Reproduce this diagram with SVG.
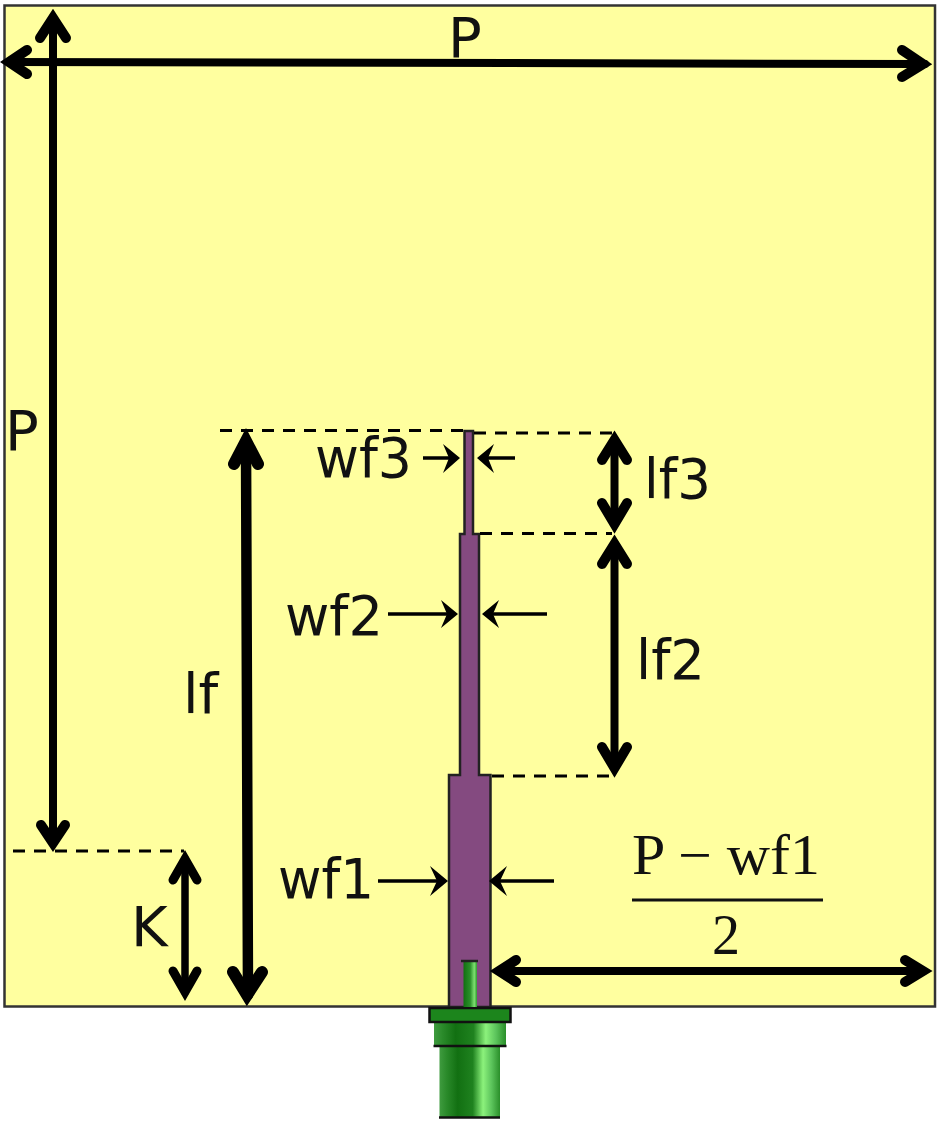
<svg xmlns="http://www.w3.org/2000/svg" width="942" height="1125" viewBox="0 0 942 1125">
<defs>
<style>
.t{font-family:"DejaVu Sans",Verdana,sans-serif;font-size:56px;fill:#111}
.m{font-family:"Liberation Serif","Times New Roman",serif;font-size:56px;fill:#111}
.a{fill:none;stroke:#000;stroke-linecap:round;stroke-linejoin:miter;stroke-miterlimit:10}
.d{fill:none;stroke:#000;stroke-width:3;stroke-dasharray:12 9}
.f{fill:#844a80;stroke:#222;stroke-width:2.5}
.g{stroke:#111;stroke-width:2.5}
.s{fill:none;stroke:#000;stroke-width:3.500}
</style>
<linearGradient id="cyl" x1="0" x2="1" y1="0" y2="0">
<stop offset="0" stop-color="#3f9b3f"/><stop offset=".12" stop-color="#2a8a2a"/><stop offset=".3" stop-color="#127012"/><stop offset=".55" stop-color="#1f821f"/><stop offset=".72" stop-color="#8cf27c"/><stop offset=".86" stop-color="#5cc45c"/><stop offset="1" stop-color="#2a8f2a"/>
</linearGradient>
<linearGradient id="pin" x1="0" x2="1" y1="0" y2="0">
<stop offset="0" stop-color="#117011"/><stop offset=".5" stop-color="#2b912b"/><stop offset=".8" stop-color="#7ee070"/><stop offset="1" stop-color="#2f9a2f"/>
</linearGradient>
</defs>
<rect width="942" height="1125" fill="#fff"/>
<g id="board"><rect x="4.500" y="5.500" width="930.500" height="1001" fill="#ffff9f" stroke="#333" stroke-width="2.500"/></g>
<g id="feedline">
<path class="f" d="M464.500 431H473V534H479V775H490.500V1007H449V775H460V534H464.500Z"/>
</g>
<g id="connector">
<rect x="439.500" y="1047" width="60.500" height="70" fill="url(#cyl)"/>
<path d="M439 1117.500H500" stroke="#111" stroke-width="2.500"/>
<rect x="434" y="1022" width="72" height="24.500" fill="url(#cyl)"/>
<path d="M433.500 1046H506.500" stroke="#111" stroke-width="2.500"/>
<rect x="429.500" y="1008" width="81" height="14" fill="#1c851c" class="g"/>
<rect x="463.500" y="961" width="13.500" height="46" fill="url(#pin)"/>
<path d="M461 961H478" stroke="#222" stroke-width="2.500"/>
</g>
<g id="connectors">
<path class="d" d="M220 430.500H464"/>
<path class="d" d="M474 433H612"/>
<path class="d" d="M480 533.500H612"/>
<path class="d" d="M492 776H612"/>
<path class="d" d="M13 851H184"/>
<g class="a" stroke-width="10">
<path d="M9 62L925 64" stroke-width="8"/><path d="M27 50L9 62L27 74"/><path d="M902 50L923 64L902 77"/>
<path d="M53 18V843" stroke-width="8"/><path d="M40 38L53 18L66 38"/><path d="M41 825L53 843L65 825"/>
</g>
<g class="a" stroke-width="12">
<path d="M246 441L248 995" stroke-width="10.500"/><path d="M234 464L246 441L258 464"/><path d="M233 972L247 995L262 972"/>
</g>
<g class="a" stroke-width="9">
<path d="M185 859V992" stroke-width="7.500"/><path d="M173 880L185 859L197 880"/><path d="M173 971L185 992L197 971"/>
</g>
<g class="a" stroke-width="10">
<path d="M614.500 440V524" stroke-width="8"/><path d="M602 460L614.500 440L627 460"/><path d="M602 503L614.500 524L627 503"/>
<path d="M614.500 544V768" stroke-width="8"/><path d="M602 564L614.500 544L627 564"/><path d="M602 747L614.500 768L627 747"/>
<path d="M499 971H923" stroke-width="8"/><path d="M516 960L499 971L516 982"/><path d="M905 960L923 971L905 982"/>
</g>
<g id="small-arrows">
<path class="s" d="M423 458H450"/><path d="M460 458L443 444L449 458L443 473Z"/>
<path class="s" d="M515 458H488"/><path d="M477 458L494 444L488 458L494 473Z"/>
<path class="s" d="M388 614H448"/><path d="M458 614L441 600L447 614L441 628Z"/>
<path class="s" d="M547 614H493"/><path d="M482 614L499 600L493 614L499 628Z"/>
<path class="s" d="M378 881H438"/><path d="M448 881L430 866L437 881L430 896Z"/>
<path class="s" d="M554 881H500"/><path d="M489 881L507 866L500 881L507 896Z"/>
</g>
<path d="M632 900H823" stroke="#111" stroke-width="3"/>
</g>
<g id="labels">
<text class="t" x="448" y="57">P</text>
<text class="t" x="5" y="450">P</text>
<text class="t" x="315" y="477" textLength="97" lengthAdjust="spacingAndGlyphs">wf3</text>
<text class="t" x="285" y="635" textLength="98" lengthAdjust="spacingAndGlyphs">wf2</text>
<text class="t" x="278" y="898" textLength="96" lengthAdjust="spacingAndGlyphs">wf1</text>
<text class="t" x="644" y="498" textLength="67" lengthAdjust="spacingAndGlyphs">lf3</text>
<text class="t" x="636" y="679" textLength="69" lengthAdjust="spacingAndGlyphs">lf2</text>
<text class="t" x="183" y="713">lf</text>
<text class="t" x="131" y="946">K</text>
<text class="m" x="632" y="874" textLength="188" lengthAdjust="spacingAndGlyphs">P − wf1</text>
<text class="m" x="712" y="954">2</text>
</g>
</svg>
